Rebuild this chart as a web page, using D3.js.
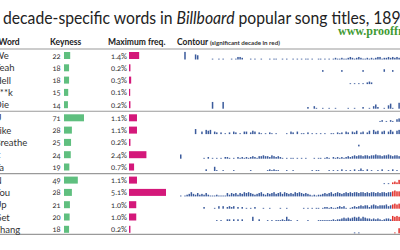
<!DOCTYPE html>
<html><head><meta charset="utf-8">
<script src="https://cdnjs.cloudflare.com/ajax/libs/d3/7.8.5/d3.min.js"></script>
<style>
html,body{margin:0;padding:0;background:#fff;overflow:hidden;}
svg{display:block;font-family:Lato,"Open Sans",sans-serif;}
</style></head>
<body>
<svg id="chart" width="400" height="250"></svg>
<script>
// ---- data ----
const words = ["We","Yeah","Hell","F**k","Die","U","Like","Breathe","It","Ya","N","You","Up","Get","Thang"];
const keyness = [22,18,18,15,14,71,28,25,24,19,49,28,21,20,18];
const maxFreq = [1.4,0.2,0.3,0.1,0.2,1.1,1.1,0.2,2.4,0.7,1.1,5.1,1.0,1.0,0.2];
const sigDecade = [2010,2010,2010,2010,2010,2000,2000,2000,2000,2000,1990,1990,1990,1990,1990];
const firstYear = 1890;
// relative yearly frequency (0-9), one digit per year from 1890
const contourWe    = "0090000650"+"0000010010"+"1000101332"+"0001010010"+"0010110010"+"1001010101"+"1010011010"+"1012112112"+"3212321121"+"2123312232"+"3232122321";
const contourYeah  = "0000000000"+"0000000000"+"0000000000"+"0000000000"+"0000000000"+"0000000000"+"0000000200"+"0000002000"+"0000002000"+"0000003000"+"2000100000";
const contourHell  = "0000000000"+"0000000000"+"0000000000"+"0000000000"+"0000000000"+"0000000000"+"0000000000"+"0000000000"+"1010101023"+"2000000000"+"0000000000";
const contourFk    = "0000000000"+"0000000000"+"0000000000"+"0000000000"+"0000000000"+"0000000000"+"0000000000"+"0000000000"+"0000000000"+"0000000000"+"0000000000";
const contourDie   = "0000000000"+"0000080000"+"8000000000"+"0000000000"+"0000000000"+"0000000000"+"2003100100"+"1001000001"+"0010002001"+"0352001046"+"1007206020";
const contourU     = "0000000000"+"0000000000"+"0000000000"+"0000000000"+"0000000000"+"0000000000"+"0000000000"+"0000000000"+"0000000000"+"0000120102"+"1034232323";
const contourLike  = "0000000600"+"3054503202"+"0102032010"+"3302430210"+"1021010000"+"1032030110"+"2010101010"+"0110212032"+"0324023024"+"0534034035"+"3045345345";
const contourBreathe="0000000000"+"0000000000"+"0000000000"+"0000000000"+"0000000000"+"0000000000"+"0000000000"+"0000000000"+"0000200000"+"0000000000"+"0000000000";
const contourIt    = "5000000000"+"0102010101"+"0221010212"+"1212321334"+"3324323210"+"1011010101"+"0001011012"+"1021212123"+"2343443443"+"4454434454"+"3443443443";
const contourYa    = "0000000000"+"0020005100"+"1000010000"+"0001000000"+"0121211000"+"1001000000"+"0010110000"+"1010102010"+"1020131020"+"1001020010"+"2010302010";
const contourN     = "0000000000"+"0000000000"+"0000000000"+"0000000000"+"0000000000"+"0000000000"+"0000000000"+"0000000000"+"0000000000"+"0000001010"+"2325343534";
const contourYou   = "1012353242"+"3242111211"+"1142434243"+"5454323453"+"2434534535"+"4343545434"+"3212122343"+"4534543454"+"5455455454"+"5545455455"+"6766767676";
const contourUp    = "0000000000"+"0200001030"+"3023230202"+"0101020001"+"0010000100"+"1000000010"+"1010110122"+"1211232310"+"1232343442"+"4543444534"+"5656565656";
const contourGet   = "0000000000"+"0000000101"+"0022020202"+"0000500200"+"0101011121"+"5210010000"+"1000011111"+"1121223434"+"3454535433"+"2323212332"+"6565656565";
const contourThang = "0000000000"+"0000000000"+"0000000000"+"0000000000"+"0000000000"+"0000000000"+"0000000000"+"0000000000"+"0010100000"+"0000000000"+"0106777777";
const contours = [contourWe,contourYeah,contourHell,contourFk,contourDie,contourU,contourLike,contourBreathe,contourIt,contourYa,contourN,contourYou,contourUp,contourGet,contourThang];

// ---- drawing ----
const svg = d3.select("#chart");
const textCol = "#333";

// title
const title = svg.append("text").attr("fill","#222").style("font-size","18px");
title.append("tspan").text("decade-specific words in ");
title.append("tspan").attr("font-style","italic").text("Billboard");
title.append("tspan").text(" popular song titles, 1890\u20132014");
const tn = title.node();
const x0 = tn.getStartPositionOfChar(0).x;
const x59 = tn.getStartPositionOfChar(59).x; // start of the "0" after "189"
const sx = 398 / (x59 - x0);
title.attr("transform", `translate(3,24) scale(${sx},1)`);

svg.append("text").attr("x",338).attr("y",35)
  .attr("fill","#3f9a33").attr("font-weight","bold")
  .style("font-family","'Liberation Serif',serif").style("font-size","12px")
  .text("www.prooffreader.com");

// headers
const hdr = svg.append("g").attr("fill","#222").attr("font-weight","bold").style("font-size","8.5px");
hdr.append("text").attr("x",-1.5).attr("y",45).text("Word");
hdr.append("text").attr("x",50).attr("y",45).text("Keyness");
hdr.append("text").attr("x",108).attr("y",45).text("Maximum freq.");
hdr.append("text").attr("x",177).attr("y",45).style("font-size","8.5px").text("Contour");
hdr.append("text").attr("x",210).attr("y",45).style("font-size","6.2px").attr("fill","#333").text("(significant decade in red)");

// rows
const rowY = i => 55.5 + i*12.3 + Math.floor(i/5)*0.8;
const kScale = d3.scaleLinear().domain([0,71]).range([0,20]);
const fScale = d3.scaleLinear().domain([0,5.1]).range([0,37]);
const xYear = d3.scaleLinear().domain([firstYear, 2000]).range([180, 180+110*2.12]);
const hScale = d3.scaleLinear().domain([0,9]).range([0,7.6]);

// separator lines
const lineYs = [49, (rowY(4)+rowY(5))/2, (rowY(9)+rowY(10))/2, rowY(14)+5];
svg.selectAll("line.sep").data(lineYs).join("line").attr("class","sep")
  .attr("x1",0).attr("x2",400).attr("y1",d=>d).attr("y2",d=>d)
  .attr("stroke","#9a9a9a").attr("stroke-width",1.2);

const rows = svg.selectAll("g.row").data(words.map((w,i)=>({w,i}))).join("g").attr("class","row")
  .attr("transform", d=>`translate(0,${rowY(d.i)})`);

rows.append("text").attr("x",-5.5).attr("y",3.5).attr("fill",textCol).style("font-size","9.5px").text(d=>d.w);
rows.append("text").attr("x",60.5).attr("y",3).attr("text-anchor","end").attr("fill",textCol)
  .style("font-size","7.5px").style("font-variant-numeric","oldstyle-nums").text(d=>keyness[d.i]);
rows.append("rect").attr("x",64).attr("y",-3.5).attr("height",7).attr("width",d=>kScale(keyness[d.i])).attr("fill","#5fbf7f");
rows.append("text").attr("x",127).attr("y",3).attr("text-anchor","end").attr("fill",textCol)
  .style("font-size","7.5px").style("font-variant-numeric","oldstyle-nums").text(d=>maxFreq[d.i].toFixed(1)+"%");
rows.append("rect").attr("x",129).attr("y",-3.5).attr("height",7).attr("width",d=>Math.max(1.2,fScale(maxFreq[d.i]))).attr("fill","#d4187a");

rows.each(function(d){
  const vals = contours[d.i].split("").map(Number).map((v,j)=>({year:firstYear+j, v}));
  d3.select(this).selectAll("rect.c").data(vals.filter(o=>o.v>0)).join("rect").attr("class","c")
    .attr("x", o=>xYear(o.year)).attr("width",1.5)
    .attr("y", o=>4 - hScale(o.v)).attr("height", o=>hScale(o.v))
    .attr("fill", o=> (o.year>=sigDecade[d.i] && o.year<sigDecade[d.i]+10) ? "#e2302b" : "#3b5b9c");
});
</script>
</body></html>
